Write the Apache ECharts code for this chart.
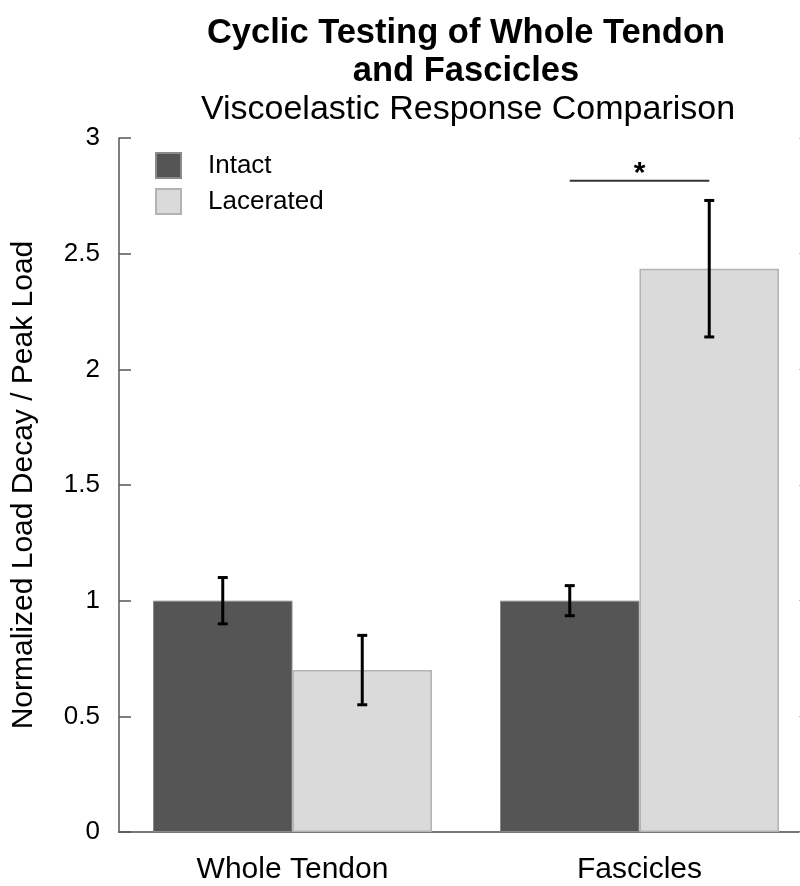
<!DOCTYPE html>
<html>
<head>
<meta charset="utf-8">
<script src="https://cdn.jsdelivr.net/npm/echarts@6/dist/echarts.min.js"></script>
<style>html,body{margin:0;padding:0;background:#fff}#c{width:800px;height:886px}</style>
</head>
<body>
<div id="c"></div>
<script>
var categories = ['Whole Tendon', 'Fascicles'];
var seriesNames = ['Intact', 'Lacerated'];
var intactMean = [1.0, 1.0];
var intactErr = [0.10, 0.065];
var laceratedMean = [0.70, 2.435];
var laceratedErr = [0.15, 0.295];
var sigCategory = 1;
var sigLevel = 2.815;
var yTicks = [0, 0.5, 1, 1.5, 2, 2.5, 3];

var GAP = 0.196;
var FONT = 'Liberation Sans, Arial, sans-serif';

var errData = [];
for (var i = 0; i < categories.length; i++) {
  errData.push([i, intactMean[i] - intactErr[i], intactMean[i] + intactErr[i], 0]);
  errData.push([i, laceratedMean[i] - laceratedErr[i], laceratedMean[i] + laceratedErr[i], 1]);
}

function barOffset(api, which) {
  var catW = api.size([1, 0])[0];
  var bw = catW * (1 - GAP) / 2;
  return which === 0 ? -bw / 2 : bw / 2;
}

var chart = echarts.init(document.getElementById('c'), null, {renderer: 'canvas'});
chart.setOption({
  animation: false,
  backgroundColor: '#fff',
  title: [
    {text: 'Cyclic Testing of Whole Tendon\nand Fascicles', left: 461, top: 9, textAlign: 'center',
     textStyle: {fontFamily: FONT, fontWeight: 'bold', fontSize: 34.5, lineHeight: 38, color: '#000'}},
    {text: 'Viscoelastic Response Comparison', left: 463, top: 88, textAlign: 'center',
     textStyle: {fontFamily: FONT, fontWeight: 'normal', fontSize: 34, color: '#000'}}
  ],
  legend: {
    orient: 'vertical', left: 155, top: 152, padding: 0, itemWidth: 25, itemHeight: 25, itemGap: 9,
    data: seriesNames, icon: 'rect',
    textStyle: {fontFamily: FONT, fontSize: 26, color: '#000', padding: [0, 0, 0, 22]}
  },
  grid: {left: 119, top: 138, width: 694, height: 694, containLabel: false, outerBoundsMode: 'none'},
  xAxis: [
    {type: 'category', data: categories, position: 'bottom',
     axisLine: {lineStyle: {color: '#555', width: 2}},
     axisTick: {inside: true, length: 12, lineStyle: {color: '#555', width: 1.5}},
     axisLabel: {fontFamily: FONT, fontSize: 30, color: '#000', margin: 23}},
    {type: 'category', data: categories, position: 'top',
     axisLine: {lineStyle: {color: '#777', width: 2}},
     axisTick: {inside: true, length: 12, lineStyle: {color: '#555', width: 1.5}},
     axisLabel: {show: false}}
  ],
  yAxis: [
    {type: 'value', min: 0, max: 3, interval: 0.5, position: 'left',
     name: 'Normalized Load Decay / Peak Load', nameLocation: 'middle', nameGap: 80,
     nameTextStyle: {fontFamily: FONT, fontSize: 30, color: '#000'},
     axisLine: {show: true, lineStyle: {color: '#555', width: 1.5}},
     axisTick: {show: true, inside: true, length: 12, lineStyle: {color: '#555', width: 1.5}},
     axisLabel: {fontFamily: FONT, fontSize: 26, color: '#000', margin: 19,
       formatter: function (v) { return yTicks.indexOf(v) >= 0 ? String(v) : ''; }},
     splitLine: {show: false}},
    {type: 'value', min: 0, max: 3, interval: 0.5, position: 'right',
     axisLine: {show: true, lineStyle: {color: '#555', width: 1.5}},
     axisTick: {show: true, inside: true, length: 14, lineStyle: {color: '#bbb', width: 1}},
     axisLabel: {show: false}, splitLine: {show: false}}
  ],
  series: [
    {name: 'Intact', type: 'bar', data: intactMean, barGap: '0%', barCategoryGap: (GAP * 100) + '%',
     itemStyle: {color: '#555555', borderColor: '#8a8a8a', borderWidth: 1}},
    {name: 'Lacerated', type: 'bar', data: laceratedMean, barGap: '0%', barCategoryGap: (GAP * 100) + '%',
     itemStyle: {color: '#dadada', borderColor: '#b3b3b3', borderWidth: 1.5}},
    {type: 'custom', data: errData, z: 10,
     renderItem: function (params, api) {
       var c = api.value(0);
       var lo = api.coord([c, api.value(1)]);
       var hi = api.coord([c, api.value(2)]);
       var x = lo[0] + barOffset(api, api.value(3));
       var cap = 5;
       var st = {stroke: '#000', lineWidth: 3};
       return {type: 'group', children: [
         {type: 'line', shape: {x1: x, y1: lo[1], x2: x, y2: hi[1]}, style: st},
         {type: 'line', shape: {x1: x - cap, y1: lo[1], x2: x + cap, y2: lo[1]}, style: st},
         {type: 'line', shape: {x1: x - cap, y1: hi[1], x2: x + cap, y2: hi[1]}, style: st}
       ]};
     }},
    {type: 'custom', data: [[sigCategory, sigLevel]], z: 10,
     renderItem: function (params, api) {
       var p = api.coord([api.value(0), api.value(1)]);
       var x1 = p[0] + barOffset(api, 0);
       var x2 = p[0] + barOffset(api, 1);
       return {type: 'group', children: [
         {type: 'line', shape: {x1: x1, y1: p[1], x2: x2, y2: p[1]}, style: {stroke: '#333', lineWidth: 2}},
         {type: 'text', style: {text: '*', x: (x1 + x2) / 2, y: p[1] - 22, textAlign: 'center', textVerticalAlign: 'top',
           font: 'bold 30px ' + FONT, fill: '#000'}}
       ]};
     }}
  ]
});
</script>
</body>
</html>
